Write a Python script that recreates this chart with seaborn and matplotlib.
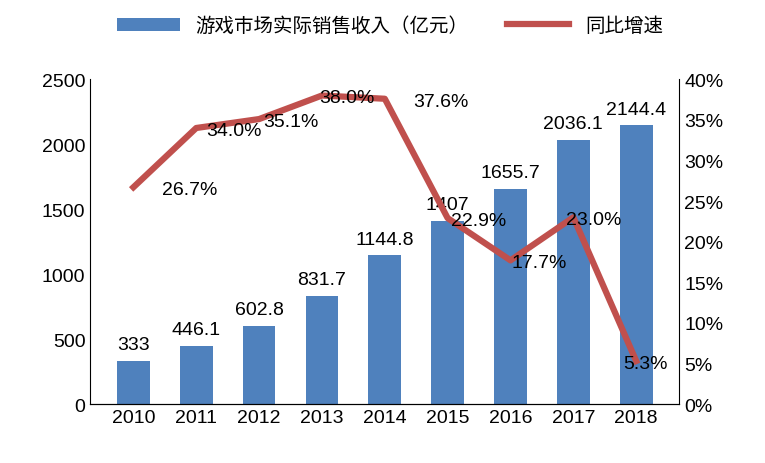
import matplotlib
matplotlib.use("Agg")
import matplotlib.pyplot as plt
from matplotlib import font_manager as fm
import seaborn as sns
import pandas as pd
from matplotlib.ticker import FuncFormatter

years = ["2010","2011","2012","2013","2014","2015","2016","2017","2018"]
revenue = [333, 446.1, 602.8, 831.7, 1144.8, 1407, 1655.7, 2036.1, 2144.4]
revenue_labels = ["333","446.1","602.8","831.7","1144.8","1407","1655.7","2036.1","2144.4"]
growth = [26.7, 34.0, 35.1, 38.0, 37.6, 22.9, 17.7, 23.0, 5.3]
growth_label_dx = [0.9, 0.6, 0.5, 0.4, 0.9, 0.5, 0.45, 0.33, 0.15]

cjk = None
for f in fm.fontManager.ttflist:
    if "CJK" in f.name and "SC" in f.name:
        cjk = f.name; break
if cjk is None:
    for f in fm.fontManager.ttflist:
        if "CJK" in f.name:
            cjk = f.name; break
fams = ["Liberation Sans"] + ([cjk] if cjk else [])
plt.rcParams["font.family"] = fams

fig = plt.figure(figsize=(7.65, 4.64), dpi=100)
ax = fig.add_axes([0.118, 0.127, 0.77, 0.70])
df = pd.DataFrame({"year": years, "rev": revenue})
sns.barplot(data=df, x="year", y="rev", color="#4F81BD", width=0.52, ax=ax, saturation=1,
            label="游戏市场实际销售收入（亿元）", legend=False)
ax.set_ylim(0, 2500)
ax.set_yticks(range(0, 2501, 500))
ax.set_xlabel(""); ax.set_ylabel("")
for i, (v, t) in enumerate(zip(revenue, revenue_labels)):
    ax.text(i, v + 60, t, ha="center", va="bottom", fontsize=14)
ax2 = ax.twinx()
ax2.plot(range(len(years)), growth, color="#C0504D", lw=4.5, label="同比增速")
ax2.set_ylim(0, 40)
ax2.set_yticks(range(0, 41, 5))
ax2.yaxis.set_major_formatter(FuncFormatter(lambda v, p: f"{int(v)}%"))
for i, (g, dx) in enumerate(zip(growth, growth_label_dx)):
    ax2.text(i + dx, g - 0.3, f"{g:.1f}%", ha="center", va="center", fontsize=14)
for a in (ax, ax2):
    a.tick_params(labelsize=14, length=0)
    a.spines["top"].set_visible(False)
ax.spines["right"].set_visible(False)
ax2.spines["left"].set_visible(False)
if ax.get_legend():
    ax.get_legend().remove()
h1, l1 = ax.get_legend_handles_labels()
h2, l2 = ax2.get_legend_handles_labels()
fig.legend(h1 + h2, l1 + l2, loc="upper center", bbox_to_anchor=(0.51, 1.0), ncol=2,
           frameon=False, fontsize=14, handlelength=3.2, columnspacing=2.0)
fig.savefig("out.png")
